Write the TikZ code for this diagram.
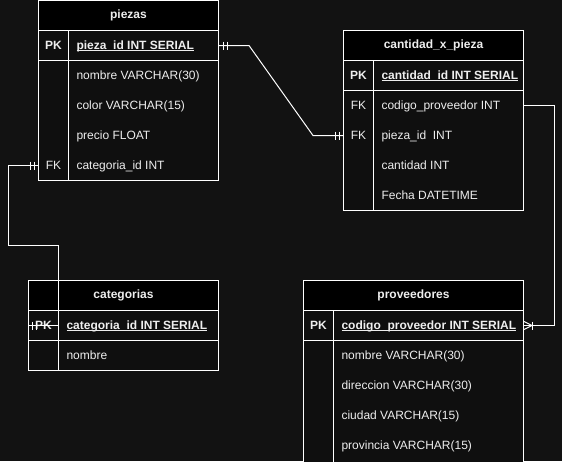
\documentclass[tikz,border=0pt]{standalone}
\usepackage{fontspec}
\setmainfont{Liberation Sans}
\usetikzlibrary{calc}
\definecolor{bgc}{RGB}{18,18,18}
\definecolor{bodyc}{RGB}{15,15,15}
\definecolor{txtc}{RGB}{238,238,238}
\newsavebox{\kulbox}
\newcommand\keyul[1]{\sbox\kulbox{#1}\rlap{\rule[-1.6pt]{\wd\kulbox}{0.9pt}}\usebox\kulbox}
\begin{document}
\begin{tikzpicture}[x=1pt,y=-1pt,line width=1pt,
  font=\fontsize{12}{14}\selectfont,
  hdr/.style={draw=white, fill=black, minimum height=30pt, inner sep=0pt, text=txtc, font=\fontsize{12}{14}\selectfont\bfseries},
  rowbox/.style={draw=white, fill=bodyc, minimum height=30pt, inner sep=0pt},
  bodybox/.style={draw=white, fill=bodyc, inner sep=0pt},
  rowanchor/.style={minimum height=30pt, inner sep=0pt},
  divider/.style={draw=white},
  fld/.style={anchor=west, inner sep=0pt, text height=8pt, text depth=0pt, text=txtc},
  keyl/.style={inner sep=0pt, text height=8pt, text depth=0pt, text=txtc},
  conn/.style={draw=white, line width=1pt},
  tick/.style={draw=white, line width=1pt}]
\fill[bgc] (0,0) rectangle (562,461);
\useasboundingbox (0,0) rectangle (562,461);

% ---------------- piezas ----------------
\node[hdr, minimum width=180pt] (piezas) at (128.5,15.5) {piezas};
\node[rowbox, minimum width=180pt] (piezas-pk) at (128.5,45.5) {};
\node[bodybox, minimum width=180pt, minimum height=120pt] (piezas-body) at (128.5,120.5) {};
\draw[divider] (68.5,30.5) -- (68.5,180.5);
\node[rowanchor, minimum width=180pt] (piezas-r5) at (128.5,165.5) {};
\node[keyl] (piezas-k1) at (53.5,45.5) {\bfseries PK};
\node[fld] (piezas-f1) at (76,45.5) {\bfseries\keyul{pieza\_id INT SERIAL}};
\node[fld] (piezas-f2) at (76,75.5) {nombre VARCHAR(30)};
\node[fld] (piezas-f3) at (76,105.5) {color VARCHAR(15)};
\node[fld] (piezas-f4) at (76,135.5) {precio FLOAT};
\node[keyl] (piezas-k5) at (53.5,165.5) {FK};
\node[fld] (piezas-f5) at (76,165.5) {categoria\_id INT};

% ---------------- cantidad_x_pieza ----------------
\node[hdr, minimum width=180pt] (cxp) at (433.5,45.5) {cantidad\_x\_pieza};
\node[rowbox, minimum width=180pt] (cxp-pk) at (433.5,75.5) {};
\node[bodybox, minimum width=180pt, minimum height=120pt] (cxp-body) at (433.5,150.5) {};
\draw[divider] (373.5,60.5) -- (373.5,210.5);
\node[rowanchor, minimum width=180pt] (cxp-r2) at (433.5,105.5) {};
\node[rowanchor, minimum width=180pt] (cxp-r3) at (433.5,135.5) {};
\node[keyl] (cxp-k1) at (358.5,75.5) {\bfseries PK};
\node[fld] (cxp-f1) at (381,75.5) {\bfseries\keyul{cantidad\_id INT SERIAL}};
\node[keyl] (cxp-k2) at (358.5,105.5) {FK};
\node[fld] (cxp-f2) at (381,105.5) {codigo\_proveedor INT};
\node[keyl] (cxp-k3) at (358.5,135.5) {FK};
\node[fld] (cxp-f3) at (381,135.5) {pieza\_id\ \ INT};
\node[fld] (cxp-f4) at (381,165.5) {cantidad INT};
\node[fld] (cxp-f5) at (381,195.5) {Fecha DATETIME};

% ---------------- categorias ----------------
\node[hdr, minimum width=190pt] (cat) at (123.5,295.5) {categorias};
\node[rowbox, minimum width=190pt] (cat-pk) at (123.5,325.5) {};
\node[rowbox, minimum width=190pt] (cat-body) at (123.5,355.5) {};
\draw[divider] (58.5,310.5) -- (58.5,370.5);
\node[keyl] (cat-k1) at (43.5,325.5) {\bfseries PK};
\node[fld] (cat-f1) at (66,325.5) {\bfseries\keyul{categoria\_id INT SERIAL}};
\node[fld] (cat-f2) at (66,355.5) {nombre};

% ---------------- proveedores ----------------
\node[hdr, minimum width=220pt] (prov) at (413.5,295.5) {proveedores};
\node[rowbox, minimum width=220pt] (prov-pk) at (413.5,325.5) {};
\node[bodybox, minimum width=220pt, minimum height=126pt] (prov-body) at (413.5,403.5) {};
\draw[divider] (333.5,310.5) -- (333.5,466);
\node[keyl] (prov-k1) at (318.5,325.5) {\bfseries PK};
\node[fld] (prov-f1) at (341,325.5) {\bfseries\keyul{codigo\_proveedor INT SERIAL}};
\node[fld] (prov-f2) at (341,355.5) {nombre VARCHAR(30)};
\node[fld] (prov-f3) at (341,385.5) {direccion VARCHAR(30)};
\node[fld] (prov-f4) at (341,415.5) {ciudad VARCHAR(15)};
\node[fld] (prov-f5) at (341,445.5) {provincia VARCHAR(15)};

% ---------------- connectors ----------------
% piezas.pieza_id  -- cantidad_x_pieza.pieza_id
\draw[conn] (piezas-pk.east) -- ++(30,0) -- ($(cxp-r3.west)+(-30,0)$) -- (cxp-r3.west);
\draw[tick] ($(piezas-pk.east)+(4,-4)$) -- ++(0,8);
\draw[tick] ($(piezas-pk.east)+(8,-4)$) -- ++(0,8);
\draw[tick] ($(cxp-r3.west)+(-4,-4)$) -- ++(0,8);
\draw[tick] ($(cxp-r3.west)+(-8,-4)$) -- ++(0,8);

% cantidad_x_pieza.codigo_proveedor -- proveedores.codigo_proveedor
\draw[conn] (cxp-r2.east) -- ++(30,0) |- (prov-pk.east);
\draw[tick] ($(prov-pk.east)+(0,-4)$) -- ($(prov-pk.east)+(8,0)$) -- ($(prov-pk.east)+(0,4)$);
\draw[tick] ($(prov-pk.east)+(8,-4)$) -- ++(0,8);

% piezas.categoria_id -- categorias.categoria_id
\coordinate (c1) at (8.5,245.5);
\coordinate (c2) at (58.5,245.5);
\draw[conn] (piezas-r5.west) -| (c1) -- (c2) |- (cat-pk.west);
\draw[tick] ($(piezas-r5.west)+(-4,-4)$) -- ++(0,8);
\draw[tick] ($(piezas-r5.west)+(-8,-4)$) -- ++(0,8);
\draw[tick] ($(cat-pk.west)+(4,-4)$) -- ++(0,8);
\draw[tick] ($(cat-pk.west)+(8,-4)$) -- ++(0,8);
\end{tikzpicture}
\end{document}
